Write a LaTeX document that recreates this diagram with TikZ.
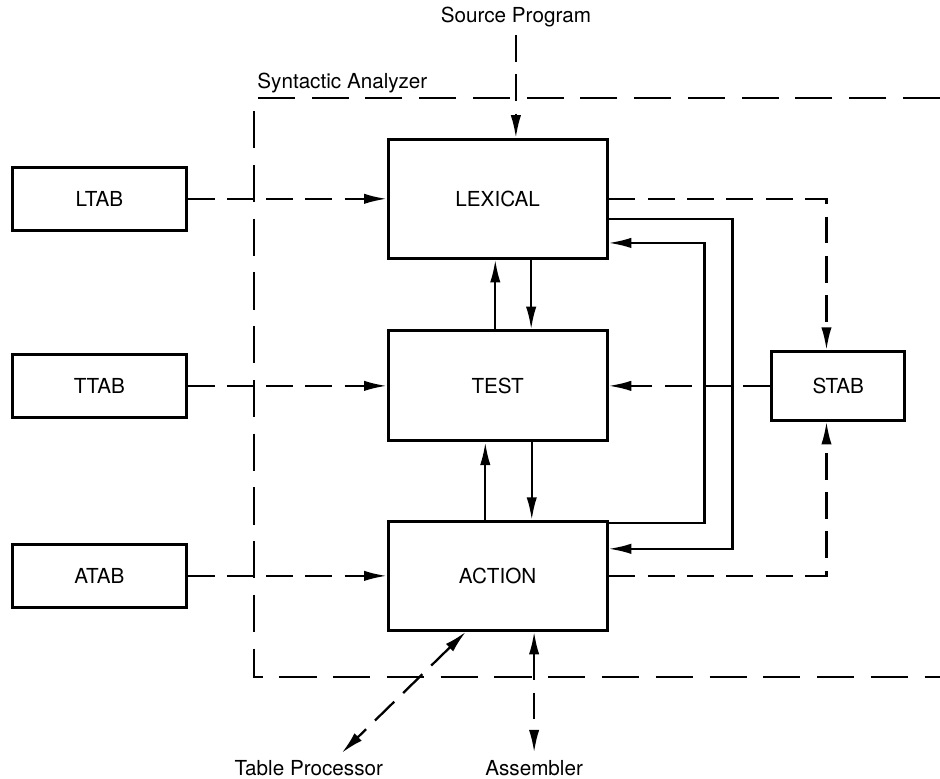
\documentclass[tikz,border=0pt]{standalone}
\usepackage{fontspec}
\setmainfont{TeX Gyre Heros}
\usetikzlibrary{arrows.meta}

\begin{document}
\begin{tikzpicture}[>={Latex[length=11pt,width=5pt]}, line width=1.1pt,
  unit/.style={draw, line width=1.4pt, minimum width=3.72cm, inner sep=0pt},
  tab/.style={draw, line width=1.4pt, minimum width=2.95cm, minimum height=1.08cm, inner sep=0pt},
  flow/.style={dash pattern=on 13pt off 6pt},
  frame/.style={line width=1.2pt, dash pattern=on 18pt off 8pt}]
\useasboundingbox (0cm,0cm) rectangle (15.98cm,-13.23cm);

\node[unit, minimum height=2.02cm] (lexical) at (8.46cm,-3.38cm) {LEXICAL};
\node[unit, minimum height=1.87cm] (test) at (8.46cm,-6.56cm) {TEST};
\node[unit, minimum height=1.85cm] (action) at (8.46cm,-9.79cm) {ACTION};
\node[tab] (ltab) at (1.69cm,-3.38cm) {LTAB};
\node[tab] (ttab) at (1.69cm,-6.56cm) {TTAB};
\node[tab] (atab) at (1.69cm,-9.79cm) {ATAB};
\node[tab, minimum width=2.26cm, minimum height=1.17cm] (stab) at (14.25cm,-6.56cm) {STAB};

\node (source) at (8.77cm,-0.29cm) {Source Program};
\node (analyzer) at (5.82cm,-1.41cm) {Syntactic Analyzer};
\node (tableproc) at (5.25cm,-13.06cm) {Table Processor};
\node (assembler) at (9.08cm,-13.06cm) {Assembler};
\coordinate (tpend) at (5.81cm,-12.80cm);

% analyzer boundary, open to the right
\draw[frame] (15.98cm,-1.67cm) -| (4.32cm,-11.51cm) -- (15.98cm,-11.51cm);

\draw[flow,->] (source.south) -- (source.south |- lexical.north);
\draw[flow,->] (ltab) -- (lexical);
\draw[flow,->] (ttab) -- (test);
\draw[flow,->] (atab) -- (action);

\draw[->] ([xshift=-0.04cm]test.north) -- ([xshift=-0.04cm]lexical.south);
\draw[->] ([xshift=0.57cm]lexical.south) -- ([xshift=0.57cm]test.north);
\draw[->] ([xshift=-0.21cm]action.north) -- ([xshift=-0.21cm]test.south);
\draw[->] ([xshift=0.58cm]test.south) -- ([xshift=0.58cm]action.north);

\draw[->] ([yshift=-0.34cm]lexical.east) -- ++(2.11cm,0) |- ([yshift=0.46cm]action.east);
\draw[->] ([yshift=0.90cm]action.east) -- ++(1.63cm,0) |- ([yshift=-0.75cm]lexical.east);

\draw[flow,->] (lexical.east) -| ([xshift=-0.20cm]stab.north);
\draw[flow,->] (stab) -- (test);
\draw[flow,->] (action.east) -| ([xshift=-0.20cm]stab.south);

\draw[flow,<->] ([xshift=-0.54cm]action.south) -- (tpend);
\draw[flow,<->] (assembler.north |- action.south) -- (assembler.north);
\end{tikzpicture}
\end{document}
